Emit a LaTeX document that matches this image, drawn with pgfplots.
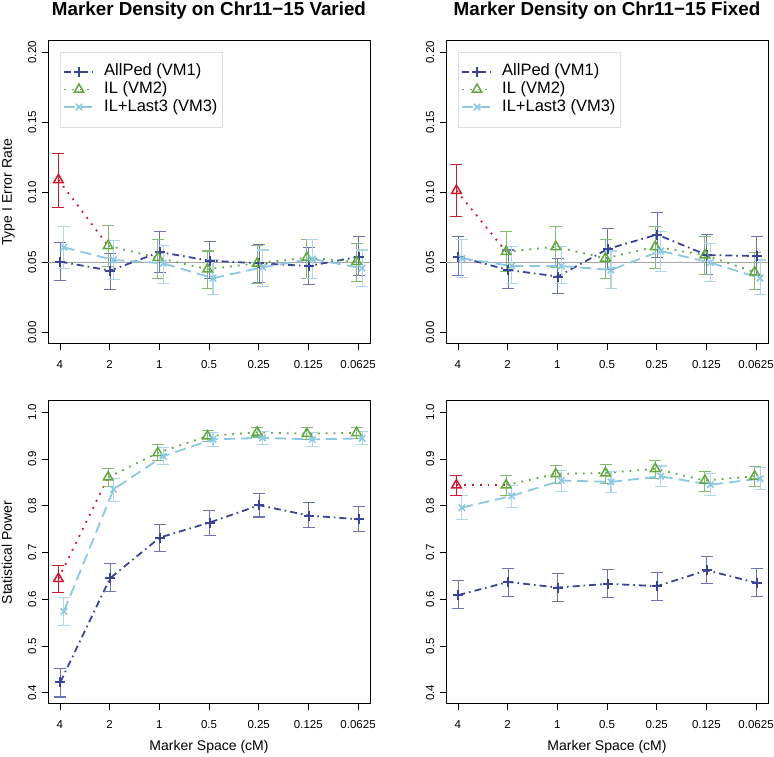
\documentclass[border=0pt]{standalone}
\usepackage{pgfplots}
\pgfplotsset{compat=1.18}
\usepackage{pgfplotstable}
\usepackage{fontspec}
\setmainfont{Liberation Sans}

\definecolor{cPed}{RGB}{58,68,150}
\definecolor{cPedE}{RGB}{108,115,180}
\definecolor{cIL}{RGB}{98,168,64}
\definecolor{cILE}{RGB}{132,186,112}
\definecolor{cL3}{RGB}{140,200,226}
\definecolor{cL3E}{RGB}{175,215,233}
\definecolor{cRed}{RGB}{205,25,45}
\definecolor{cRef}{RGB}{165,165,165}

% ---------- Type I error, Chr11-15 varied ----------
\pgfplotstableread{
x y lo hi
0.01 0.0507 0.0373 0.0644
1.01 0.0443 0.0311 0.0566
2.01 0.0575 0.0430 0.0720
3.01 0.0514 0.0384 0.0653
4.01 0.0495 0.0360 0.0630
5.01 0.0476 0.0347 0.0609
6.01 0.0542 0.0408 0.0684
}\TLped
\pgfplotstableread{
x y lo hi
-0.03 0.1090 0.0892 0.1276
}\TLilA
\pgfplotstableread{
x y lo hi
0.97 0.0620 0.0470 0.0767
1.97 0.0535 0.0389 0.0665
2.97 0.0453 0.0318 0.0583
3.97 0.0495 0.0354 0.0620
4.97 0.0535 0.0389 0.0665
5.97 0.0507 0.0365 0.0637
}\TLil
\pgfplotstableread{
x y lo hi
0.08 0.0609 0.0460 0.0755
1.08 0.0519 0.0382 0.0656
2.08 0.0495 0.0354 0.0625
3.08 0.0389 0.0271 0.0520
4.08 0.0467 0.0330 0.0590
5.08 0.0526 0.0389 0.0665
6.08 0.0460 0.0330 0.0590
}\TLlt

% ---------- Type I error, Chr11-15 fixed ----------
\pgfplotstableread{
x y lo hi
0.01 0.0542 0.0408 0.0684
1.01 0.0448 0.0318 0.0590
2.01 0.0401 0.0283 0.0531
3.01 0.0597 0.0453 0.0743
4.01 0.0700 0.0538 0.0856
5.01 0.0554 0.0413 0.0700
6.01 0.0547 0.0408 0.0684
}\TRped
\pgfplotstableread{
x y lo hi
-0.03 0.1014 0.0826 0.1200
}\TRilA
\pgfplotstableread{
x y lo hi
0.97 0.0578 0.0436 0.0719
1.97 0.0613 0.0467 0.0755
2.97 0.0531 0.0389 0.0665
3.97 0.0613 0.0460 0.0755
4.97 0.0554 0.0413 0.0689
5.97 0.0432 0.0306 0.0571
}\TRil
\pgfplotstableread{
x y lo hi
0.08 0.0531 0.0396 0.0665
1.08 0.0476 0.0349 0.0613
2.08 0.0476 0.0349 0.0613
3.08 0.0448 0.0318 0.0583
4.08 0.0583 0.0436 0.0719
5.08 0.0500 0.0365 0.0637
6.08 0.0389 0.0271 0.0519
}\TRlt

% ---------- Power, Chr11-15 varied ----------
\pgfplotstableread{
x y lo hi
0.01 0.423 0.391 0.452
1.01 0.645 0.616 0.676
2.01 0.732 0.703 0.759
3.01 0.764 0.737 0.790
4.01 0.801 0.776 0.826
5.01 0.779 0.754 0.806
6.01 0.771 0.745 0.798
}\BLped
\pgfplotstableread{
x y lo hi
-0.03 0.644 0.614 0.672
}\BLilA
\pgfplotstableread{
x y lo hi
0.97 0.861 0.841 0.880
1.97 0.913 0.897 0.930
2.97 0.949 0.937 0.961
3.97 0.957 0.947 0.968
4.97 0.954 0.942 0.967
5.97 0.956 0.944 0.967
}\BLil
\pgfplotstableread{
x y lo hi
0.08 0.574 0.543 0.603
1.08 0.835 0.810 0.858
2.08 0.906 0.888 0.924
3.08 0.942 0.927 0.956
4.08 0.945 0.931 0.959
5.08 0.942 0.927 0.956
6.08 0.944 0.930 0.958
}\BLlt

% ---------- Power, Chr11-15 fixed ----------
\pgfplotstableread{
x y lo hi
0.01 0.609 0.580 0.640
1.01 0.637 0.606 0.665
2.01 0.625 0.595 0.655
3.01 0.633 0.603 0.663
4.01 0.628 0.598 0.658
5.01 0.662 0.633 0.691
6.01 0.635 0.606 0.665
}\BRped
\pgfplotstableread{
x y lo hi
-0.03 0.844 0.821 0.865
}\BRilA
\pgfplotstableread{
x y lo hi
0.97 0.844 0.821 0.865
1.97 0.868 0.847 0.887
2.97 0.870 0.847 0.888
3.97 0.879 0.858 0.897
4.97 0.854 0.830 0.874
5.97 0.863 0.841 0.883
}\BRil
\pgfplotstableread{
x y lo hi
0.08 0.796 0.771 0.821
1.08 0.821 0.797 0.844
2.08 0.854 0.831 0.876
3.08 0.851 0.828 0.874
4.08 0.863 0.841 0.885
5.08 0.845 0.822 0.869
6.08 0.858 0.834 0.881
}\BRlt

\pgfplotsset{
  panel/.style={
    scale only axis, width=322pt, height=303pt,
    xmin=-0.24, xmax=6.24,
    xtick={0,1,2,3,4,5,6},
    xticklabels={4,2,1,0.5,0.25,0.125,0.0625},
    tick align=outside, major tick length=6pt,
    xtick pos=bottom, ytick pos=left,
    axis line style={line width=1pt},
    every tick/.style={black, line width=0.8pt},
    tick label style={font=\fontsize{11.5}{13}\selectfont},
    /pgf/number format/assume math mode=true,
    yticklabel style={rotate=90, anchor=base},
    yticklabel shift=6pt,
    xticklabel shift=7pt,
    label style={font=\fontsize{14}{16}\selectfont},
    ylabel style={at={(axis description cs:-0.112,0.5)}, anchor=base},
    xlabel style={at={(axis description cs:0.5,-0.155)}, anchor=base},
    title style={at={(axis description cs:0.5,1.065)}, anchor=base,
      font=\bfseries\fontsize{18.8}{21}\selectfont},
    legend image code/.code={\draw[mark repeat=2,mark phase=2,##1]
      plot coordinates {(0pt,0pt) (15pt,0pt) (30pt,0pt)};},
  },
  toppanel/.style={panel, ymin=-0.008, ymax=0.208,
    ytick={0,0.05,0.1,0.15,0.2},
    yticklabel style={/pgf/number format/fixed, /pgf/number format/fixed zerofill,
      /pgf/number format/precision=2},
    legend style={at={(axis description cs:0.037,0.964)}, anchor=north west,
      draw=black!13, fill=white, font=\fontsize{16.5}{19}\selectfont,
      inner xsep=3pt, inner ysep=11pt, column sep=8pt,
      nodes={text height=11.5pt, text depth=3.5pt, inner sep=1.3pt},
      cells={anchor=west}},
  },
  botpanel/.style={panel, ymin=0.376, ymax=1.024,
    ytick={0.4,0.5,0.6,0.7,0.8,0.9,1.0},
    yticklabel style={/pgf/number format/fixed, /pgf/number format/fixed zerofill,
      /pgf/number format/precision=1},
  },
  ebar/.style={error bars/y dir=both, error bars/y explicit,
    error bars/error bar style={solid, line width=1.1pt, color=#1},
    error bars/error mark options={rotate=90, solid, line width=1.1pt, color=#1, mark size=6pt}},
  ped/.style={cPed, line width=1.8pt, dash pattern=on 7pt off 4pt on 1.6pt off 4pt,
    mark=+, mark size=5pt, mark options={solid, line width=2pt}, ebar=cPedE},
  il/.style={cIL, line width=1.8pt, dash pattern=on 1.8pt off 6pt,
    mark=triangle, mark size=5.5pt, mark options={solid, line width=1.5pt}, ebar=cILE},
  ilred/.style={cRed, line width=1.8pt,
    mark=triangle, mark size=5.5pt, mark options={solid, line width=1.5pt}, ebar=cRed},
  lt/.style={cL3, line width=1.8pt, dash pattern=on 11pt off 6pt,
    mark=x, mark size=4.5pt, mark options={solid, line width=1.6pt}, ebar=cL3E},
  /pgfplots/table/tab/.style={x=x, y=y, y error plus expr=\thisrow{hi}-\thisrow{y},
    y error minus expr=\thisrow{y}-\thisrow{lo}},
}

\begin{document}
\begin{tikzpicture}
\path[use as bounding box] (0pt,0pt) rectangle (774pt,757pt);

% ===== top left =====
\begin{axis}[toppanel, at={(48pt,413pt)}, anchor=south west,
  title={Marker Density on Chr11−15 Varied}, ylabel={Type I Error Rate}]
\addplot[cRef, line width=1.3pt, forget plot] coordinates {(-0.24,0.05) (6.24,0.05)};
\addplot[cRed, line width=1.8pt, dash pattern=on 1.8pt off 6pt, forget plot] coordinates {(-0.03,0.1090) (0.97,0.0620)};
\addplot[ped] table[tab] {\TLped};
\addlegendentry{AllPed (VM1)}
\addplot[il] table[tab] {\TLil};
\addlegendentry{IL (VM2)}
\addplot[lt] table[tab] {\TLlt};
\addlegendentry{IL+Last3 (VM3)}
\addplot[ilred, only marks, forget plot] table[tab] {\TLilA};
\end{axis}

% ===== top right =====
\begin{axis}[toppanel, at={(446pt,413pt)}, anchor=south west,
  title={Marker Density on Chr11−15 Fixed}]
\addplot[cRef, line width=1.3pt, forget plot] coordinates {(-0.24,0.05) (6.24,0.05)};
\addplot[cRed, line width=1.8pt, dash pattern=on 1.8pt off 6pt, forget plot] coordinates {(-0.03,0.1014) (0.97,0.0578)};
\addplot[ped] table[tab] {\TRped};
\addlegendentry{AllPed (VM1)}
\addplot[il] table[tab] {\TRil};
\addlegendentry{IL (VM2)}
\addplot[lt] table[tab] {\TRlt};
\addlegendentry{IL+Last3 (VM3)}
\addplot[ilred, only marks, forget plot] table[tab] {\TRilA};
\end{axis}

% ===== bottom left =====
\begin{axis}[botpanel, at={(48pt,53pt)}, anchor=south west,
  ylabel={Statistical Power}, xlabel={Marker Space (cM)}]
\addplot[cRed, line width=1.8pt, dash pattern=on 1.8pt off 6pt, forget plot] coordinates {(-0.03,0.644) (0.97,0.861)};
\addplot[ped] table[tab] {\BLped};
\addplot[il] table[tab] {\BLil};
\addplot[lt] table[tab] {\BLlt};
\addplot[ilred, only marks] table[tab] {\BLilA};
\end{axis}

% ===== bottom right =====
\begin{axis}[botpanel, at={(446pt,53pt)}, anchor=south west,
  xlabel={Marker Space (cM)}]
\addplot[cRed, line width=1.8pt, dash pattern=on 1.8pt off 6pt, forget plot] coordinates {(-0.03,0.844) (0.97,0.844)};
\addplot[ped] table[tab] {\BRped};
\addplot[il] table[tab] {\BRil};
\addplot[lt] table[tab] {\BRlt};
\addplot[ilred, only marks] table[tab] {\BRilA};
\end{axis}
\end{tikzpicture}
\end{document}
